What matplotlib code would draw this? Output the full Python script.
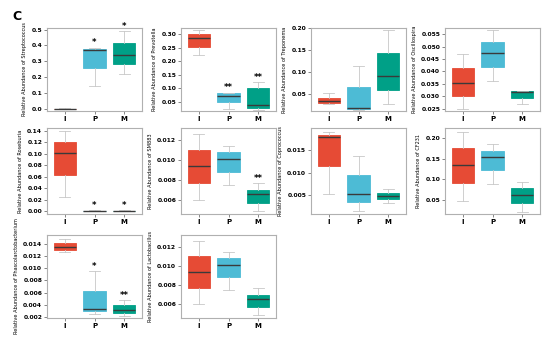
import matplotlib
matplotlib.use("Agg")
import matplotlib.pyplot as plt

# --------------------------------------------------
# Data: box stats per genus, order = whislo, q1, med, q3, whishi
# --------------------------------------------------

groups = ["I", "P", "M"]
colors = ["#E64B35", "#4DBBD5", "#00A087"]

genera = [
    "Streptococcus", "Prevotella", "Treponema", "Oscillospira",
    "Roseburia", "SM883", "Coprococcus", "CF231",
    "Phascolarctobacterium", "Lactobacillus",
]

streptococcus = [
    [0.0, 0.0, 0.0, 0.0, 0.002],
    [0.145, 0.26, 0.37, 0.375, 0.385],
    [0.22, 0.28, 0.34, 0.415, 0.49],
]
prevotella = [
    [0.222, 0.255, 0.287, 0.302, 0.316],
    [0.022, 0.050, 0.072, 0.083, 0.083],
    [0.018, 0.025, 0.038, 0.100, 0.122],
]
treponema = [
    [0.027, 0.029, 0.033, 0.041, 0.053],
    [0.013, 0.015, 0.018, 0.066, 0.113],
    [0.027, 0.058, 0.090, 0.142, 0.195],
]
oscillospira = [
    [0.025, 0.030, 0.0355, 0.0413, 0.0472],
    [0.036, 0.0417, 0.0475, 0.052, 0.0567],
    [0.027, 0.0294, 0.0316, 0.032, 0.032],
]
roseburia = [
    [0.025, 0.063, 0.102, 0.121, 0.139],
    [0.0, 0.0003, 0.0006, 0.001, 0.0012],
    [0.0, 0.0003, 0.0006, 0.001, 0.0012],
]
sm883 = [
    [0.0060, 0.0077, 0.0094, 0.0110, 0.0126],
    [0.0075, 0.0088, 0.0101, 0.0108, 0.0114],
    [0.0049, 0.0057, 0.0066, 0.0070, 0.0077],
]
coprococcus = [
    [0.0053, 0.0115, 0.0180, 0.0185, 0.0190],
    [0.0015, 0.0035, 0.0053, 0.0095, 0.0138],
    [0.0033, 0.0042, 0.0049, 0.0055, 0.0063],
]
cf231 = [
    [0.047, 0.090, 0.134, 0.175, 0.215],
    [0.088, 0.122, 0.153, 0.168, 0.185],
    [0.020, 0.042, 0.062, 0.078, 0.093],
]
phascolarctobacterium = [
    [0.0127, 0.0131, 0.0136, 0.0141, 0.0148],
    [0.0025, 0.0030, 0.0033, 0.0063, 0.0095],
    [0.0022, 0.0027, 0.0031, 0.0040, 0.0047],
]
lactobacillus = [
    [0.0060, 0.0077, 0.0094, 0.0110, 0.0126],
    [0.0075, 0.0088, 0.0101, 0.0108, 0.0114],
    [0.0049, 0.0057, 0.0066, 0.0070, 0.0077],
]

all_stats = [
    streptococcus, prevotella, treponema, oscillospira,
    roseburia, sm883, coprococcus, cf231,
    phascolarctobacterium, lactobacillus,
]

# significance marks per group
stars = [
    ["", "*", "*"], ["", "**", "**"], ["", "", ""], ["", "", ""],
    ["", "*", "*"], ["", "", "**"], ["", "", ""], ["", "", ""],
    ["", "*", "**"], ["", "", ""],
]

yticks = [
    [0.0, 0.1, 0.2, 0.3, 0.4, 0.5],
    [0.05, 0.10, 0.15, 0.20, 0.25, 0.30],
    [0.05, 0.10, 0.15, 0.20],
    [0.025, 0.030, 0.035, 0.040, 0.045, 0.050, 0.055],
    [0.00, 0.02, 0.04, 0.06, 0.08, 0.10, 0.12, 0.14],
    [0.006, 0.008, 0.010, 0.012],
    [0.005, 0.010, 0.015],
    [0.05, 0.10, 0.15, 0.20],
    [0.002, 0.004, 0.006, 0.008, 0.010, 0.012, 0.014],
    [0.006, 0.008, 0.010, 0.012],
]
tick_fmt = ["%.1f", "%.2f", "%.2f", "%.3f", "%.2f", "%.3f", "%.3f", "%.2f", "%.3f", "%.3f"]

ylims = [
    (-0.015, 0.51), (0.015, 0.324), (0.011, 0.200), (0.024, 0.0575),
    (-0.005, 0.145), (0.0046, 0.0132), (0.0008, 0.0200), (0.015, 0.225),
    (0.0018, 0.0155), (0.0046, 0.0132),
]

# --------------------------------------------------
# Layout (pixels in a 550x339 figure)
# --------------------------------------------------

W, H = 550, 339
col_left = [47, 181, 311, 445]
col_w = 95
rows = [(28, 111), (128, 214), (235, 318)]

fig = plt.figure(figsize=(5.5, 3.39), dpi=100)
fig.text(12 / W, 1 - 17 / H, "C", fontsize=9, fontweight="bold", ha="left", va="center")

frame_col = "#b0b0b0"

for i, stats in enumerate(all_stats):
    r, c = divmod(i, 4)
    top, bot = rows[r]
    ax = fig.add_axes([col_left[c] / W, 1 - bot / H, col_w / W, (bot - top) / H])

    bxp_stats = []
    for s, g in zip(stats, groups):
        bxp_stats.append({
            "whislo": s[0], "q1": s[1], "med": s[2], "q3": s[3], "whishi": s[4],
            "label": g, "fliers": [],
        })

    bp = ax.bxp(
        bxp_stats,
        positions=[1, 2, 3],
        widths=0.75,
        patch_artist=True,
        showfliers=False,
        boxprops=dict(linewidth=0.6),
        medianprops=dict(color="#3a3a3a", linewidth=1.0),
        whiskerprops=dict(color="#c8c8c8", linewidth=0.6),
        capprops=dict(color="#c8c8c8", linewidth=0.6),
    )
    for patch, col in zip(bp["boxes"], colors):
        patch.set_facecolor(col)
        patch.set_edgecolor(col)

    lo, hi = ylims[i]
    ax.set_ylim(lo, hi)
    ax.set_xlim(0.4, 3.6)
    ax.set_yticks(yticks[i])
    ax.set_yticklabels([tick_fmt[i] % t for t in yticks[i]])

    for k, mark in enumerate(stars[i]):
        if mark:
            ax.text(k + 1, stats[k][4] + (hi - lo) * 0.005, mark,
                    ha="center", va="bottom", fontsize=6, fontweight="bold")

    ax.set_ylabel("Relative Abundance of " + genera[i], fontsize=3.6, labelpad=3)
    ax.tick_params(axis="both", length=2, width=0.5, color="#555555", pad=1.5)
    ax.tick_params(axis="y", labelsize=4.3)
    ax.tick_params(axis="x", labelsize=5)
    for lab in ax.get_xticklabels() + ax.get_yticklabels():
        lab.set_fontweight("bold")
    for sp in ax.spines.values():
        sp.set_color(frame_col)
        sp.set_linewidth(0.8)

plt.savefig("out.png", dpi=100)
plt.close()
